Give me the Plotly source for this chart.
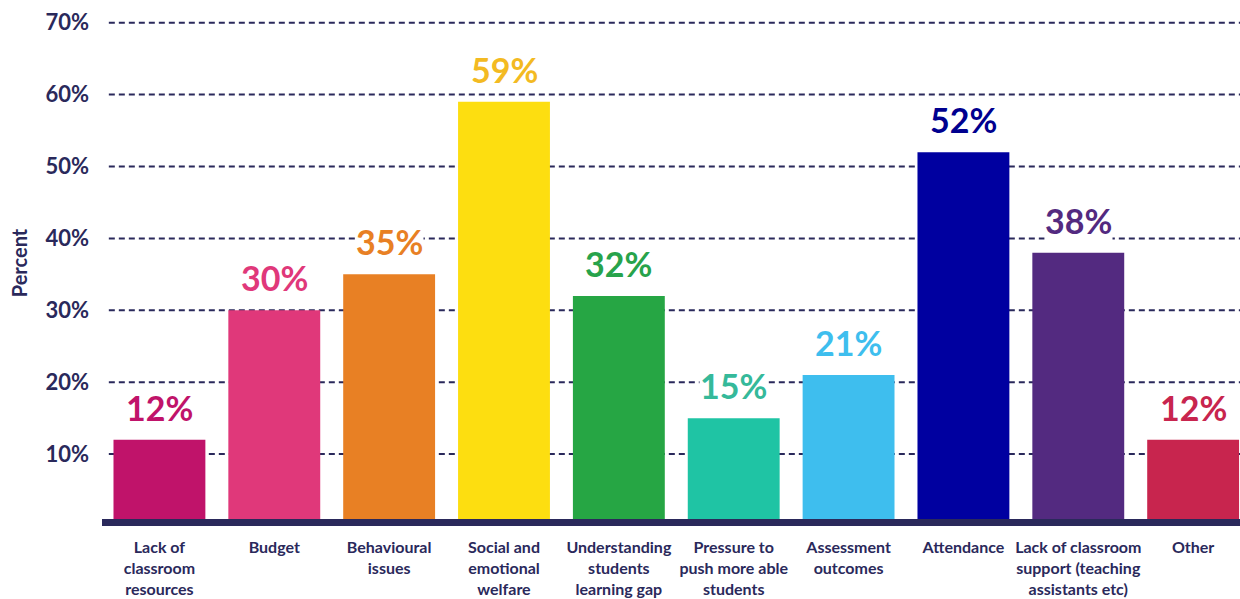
import plotly.graph_objects as go

categories = [
    "Lack of<br>classroom<br>resources",
    "Budget",
    "Behavioural<br>issues",
    "Social and<br>emotional<br>welfare",
    "Understanding<br>students<br>learning gap",
    "Pressure to<br>push more able<br>students",
    "Assessment<br>outcomes",
    "Attendance",
    "Lack of classroom<br>support (teaching<br>assistants etc)",
    "Other",
]
values = [12, 30, 35, 59, 32, 15, 21, 52, 38, 12]
bar_colors = ["#C0136A", "#E0387A", "#E88024", "#FDDE10", "#26A644",
              "#1FC4A4", "#3EBEEE", "#0000A0", "#532A80", "#C8254E"]
label_colors = ["#C0136A", "#E0387A", "#E88024", "#F3BA22", "#27A34B",
                "#35B99A", "#3EBEEE", "#00008F", "#532A80", "#C8254E"]
y_ticks = [10, 20, 30, 40, 50, 60, 70]
y_tick_text = [f"{t}%" for t in y_ticks]

NAVY = "#2A295B"
FONT = "Lato, 'Noto Sans', sans-serif"

x_pos = list(range(len(categories)))

fig = go.Figure(
    go.Bar(
        x=x_pos,
        y=values,
        marker=dict(color=bar_colors, line=dict(width=0)),
        width=0.8,
        hoverinfo="skip",
    )
)

for xi, v, c in zip(x_pos, values, label_colors):
    fig.add_annotation(
        x=xi, y=v, xref="x", yref="y",
        text=f"<b>{v}%</b>",
        showarrow=False, yanchor="bottom", yshift=11,
        font=dict(family=FONT, size=34, color=c),
        bgcolor="white", borderpad=0,
    )

# dashed horizontal guides, starting a little right of the axis edge
for t in y_ticks:
    fig.add_shape(
        type="line", xref="paper", yref="y",
        x0=0.006, x1=1, y0=t, y1=t,
        line=dict(color=NAVY, width=2, dash="6px,4px"), layer="below",
    )

# thick baseline under the bars
fig.add_shape(
    type="rect", xref="paper", yref="y",
    x0=0, x1=1, y0=0, y1=0.97,
    fillcolor=NAVY, line=dict(width=0), layer="above",
)

fig.update_layout(
    width=1240, height=599,
    margin=dict(l=102, r=0, t=0, b=73),
    paper_bgcolor="white", plot_bgcolor="white",
    showlegend=False,
    font=dict(family=FONT, color=NAVY),
    xaxis=dict(
        range=[-0.5, 9.408],
        tickmode="array", tickvals=x_pos, ticktext=[f"<b>{c}</b>" for c in categories],
        tickfont=dict(family=FONT, size=16, color=NAVY),
        showgrid=False, zeroline=False, showline=False, ticks="",
        ticklabelstandoff=10,
    ),
    yaxis=dict(
        range=[0, 73.16],
        tickmode="array", tickvals=y_ticks, ticktext=[f"<b>{t}</b>" for t in y_tick_text],
        tickfont=dict(family=FONT, size=22, color=NAVY),
        showgrid=False, zeroline=False, showline=False, ticks="",
        ticklabelstandoff=12,
        title=dict(text="<b>Percent</b>", font=dict(family=FONT, size=20, color=NAVY), standoff=12),
    ),
)

fig.write_html("out.html")
